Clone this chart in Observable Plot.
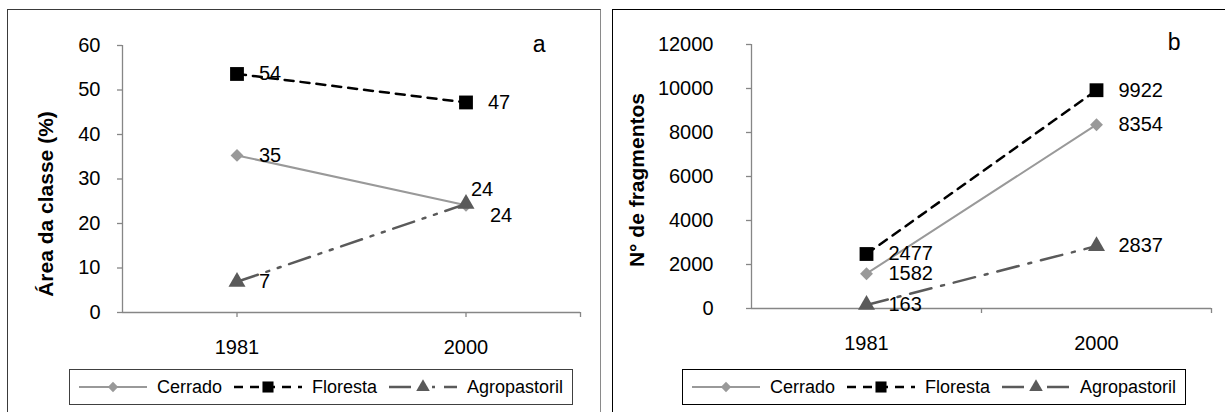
<!DOCTYPE html>
<html>
<head>
<meta charset="utf-8">
<script src="https://cdn.jsdelivr.net/npm/d3@7"></script>
<script src="https://cdn.jsdelivr.net/npm/@observablehq/plot@0.6"></script>
<style>
  body { margin: 0; background: #fff; font-family: "Liberation Sans", Arial, sans-serif; }
  #wrap { position: relative; width: 1225px; height: 412px; overflow: hidden; background: #fff; }
  .panel { position: absolute; box-sizing: border-box; }
  .chart { position: absolute; top: 0; }
  .ytitle { position: absolute; transform: translate(-50%, -50%) rotate(-90deg); white-space: nowrap;
            font-weight: bold; font-size: 21px; color: #000; }
  .legend { position: absolute; box-sizing: border-box; height: 36px; display: flex; align-items: center;
            font-size: 18px; color: #000; background: #fff; white-space: nowrap; }
  .legend svg { display: block; flex: none; }
  .legend span { margin-left: 10px; margin-right: 12px; }
</style>
</head>
<body>
<div id="wrap"></div>
<script>
// ---------- data ----------
const years = ["1981", "2000"];
const seriesNames = ["Cerrado", "Floresta", "Agropastoril"];
const areaCerrado = [35.3, 24.1];
const areaFloresta = [53.6, 47.2];
const areaAgropastoril = [6.9, 24.4];
const fragCerrado = [1582, 8354];
const fragFloresta = [2477, 9922];
const fragAgropastoril = [163, 2837];
const areaTicks = [0, 10, 20, 30, 40, 50, 60];
const fragTicks = [0, 2000, 4000, 6000, 8000, 10000, 12000];
const panelLetters = ["a", "b"];
const yTitles = ["Área da classe (%)", "N° de fragmentos"];

// ---------- styles ----------
const sty = {
  Cerrado:      {stroke: "#999999", width: 2,   dashA: null, dashB: null, symbol: "diamond2", r: 5.8},
  Floresta:     {stroke: "#000000", width: 2.5, dashA: "9,7", dashB: "9,7", symbol: "square", r: 7.8},
  Agropastoril: {stroke: "#5a5a5a", width: 2.5, dashA: "22,9,3,9,3,9", dashB: "22,10,3,10", symbol: "triangle", r: 6.3}
};
const axisColor = "#868686";

function rowsFrom(arrays) {
  return seriesNames.flatMap((s, k) => years.map((y, i) => ({series: s, i, year: y, value: arrays[k][i]})));
}
const rowsA = rowsFrom([areaCerrado, areaFloresta, areaAgropastoril]);
const rowsB = rowsFrom([fragCerrado, fragFloresta, fragAgropastoril]);

const wrap = document.getElementById("wrap");

// panel frames
const pa = document.createElement("div");
pa.className = "panel";
Object.assign(pa.style, {left: "7px", top: "9px", width: "594px", height: "500px",
  border: "1.5px solid #3a3a3a", borderRightColor: "#8a8a8a"});
wrap.appendChild(pa);
const pb = document.createElement("div");
pb.className = "panel";
Object.assign(pb.style, {left: "612px", top: "9px", width: "700px", height: "500px",
  border: "1.3px solid #000"});
wrap.appendChild(pb);

function seriesMarks(rows, dashKey) {
  const marks = [];
  for (const s of seriesNames) {
    const d = rows.filter(r => r.series === s);
    const st = sty[s];
    marks.push(Plot.line(d, {x: "i", y: "value", stroke: st.stroke, strokeWidth: st.width,
      strokeDasharray: st[dashKey] || undefined}));
  }
  for (const s of seriesNames) {
    const d = rows.filter(r => r.series === s);
    const st = sty[s];
    marks.push(Plot.dot(d, {x: "i", y: "value", symbol: st.symbol, r: st.r, fill: st.stroke, stroke: "none"}));
  }
  return marks;
}

// ---------- panel a ----------
const isA = (r, s, i) => r.series === s && r.i === i;
const chartA = Plot.plot({
  width: 608, height: 360,
  marginLeft: 122, marginRight: 28, marginTop: 45, marginBottom: 48,
  x: {type: "linear", domain: [-0.5, 1.5]},
  y: {domain: [0, 60]},
  style: {fontFamily: "Liberation Sans, Arial, sans-serif", fontSize: "20px", color: "#000", overflow: "visible", background: "transparent"},
  marks: [
    Plot.axisY({ticks: areaTicks, tickSize: 5, tickPadding: 17, stroke: axisColor, strokeWidth: 1.3, fill: "#000", label: null, fontSize: 20}),
    Plot.axisX({ticks: [0, 1, 1.5], tickFormat: i => years[i] ?? "", tickSize: 5, tickPadding: 22, stroke: axisColor, strokeWidth: 1.3, fill: "#000", label: null, fontSize: 20}),
    Plot.ruleY([0], {stroke: axisColor, strokeWidth: 1.3}),
    Plot.ruleX([-0.5], {stroke: axisColor, strokeWidth: 1.3}),
    ...seriesMarks(rowsA, "dashA"),
    Plot.text(rowsA.filter(r => !isA(r, "Cerrado", 1) && !isA(r, "Agropastoril", 1)),
      {x: "i", y: "value", text: d => d3.format(".0f")(d.value), dx: 22, textAnchor: "start", fontSize: 20, fill: "#000"}),
    Plot.text(rowsA.filter(r => isA(r, "Cerrado", 1)),
      {x: "i", y: "value", text: d => d3.format(".0f")(d.value), dx: 5, dy: -16, textAnchor: "start", fontSize: 20, fill: "#000"}),
    Plot.text(rowsA.filter(r => isA(r, "Agropastoril", 1)),
      {x: "i", y: "value", text: d => d3.format(".0f")(d.value), dx: 24, dy: 12, textAnchor: "start", fontSize: 20, fill: "#000"}),
    Plot.text([panelLetters[0]], {frameAnchor: "top-right", text: d => d, dx: -35, dy: -1, fontSize: 23, fill: "#000", lineAnchor: "middle"})
  ]
});
chartA.classList.add("chart");
chartA.style.left = "0px";
wrap.appendChild(chartA);

// ---------- panel b ----------
const chartB = Plot.plot({
  width: 613, height: 360,
  marginLeft: 139, marginRight: 14, marginTop: 44, marginBottom: 52,
  x: {type: "linear", domain: [-0.5, 1.5]},
  y: {domain: [0, 12000]},
  style: {fontFamily: "Liberation Sans, Arial, sans-serif", fontSize: "20px", color: "#000", overflow: "visible", background: "transparent"},
  marks: [
    Plot.axisY({ticks: fragTicks, tickFormat: d => String(d), tickSize: 5, tickPadding: 33, stroke: axisColor, strokeWidth: 1.3, fill: "#000", label: null, fontSize: 20}),
    Plot.axisX({ticks: [0.5, 1.5], tickFormat: () => "", tickSize: 5, stroke: axisColor, strokeWidth: 1.3, label: null}),
    Plot.axisX({ticks: [0, 1], tickFormat: i => years[i], tickSize: 0, tickPadding: 27, fill: "#000", label: null, fontSize: 20}),
    Plot.ruleY([0], {stroke: axisColor, strokeWidth: 1.3}),
    Plot.ruleX([-0.5], {stroke: axisColor, strokeWidth: 1.3}),
    ...seriesMarks(rowsB, "dashB"),
    Plot.text(rowsB, {x: "i", y: "value", text: d => String(d.value), dx: 22, textAnchor: "start", fontSize: 20, fill: "#000"}),
    Plot.text([panelLetters[1]], {frameAnchor: "top-right", text: d => d, dx: -31, dy: -2, fontSize: 23, fill: "#000", lineAnchor: "middle"})
  ]
});
chartB.classList.add("chart");
chartB.style.left = "612px";
wrap.appendChild(chartB);

// ---------- y titles ----------
function addTitle(text, cx, cy) {
  const t = document.createElement("div");
  t.className = "ytitle";
  t.textContent = text;
  t.style.left = cx + "px";
  t.style.top = cy + "px";
  wrap.appendChild(t);
}
addTitle(yTitles[0], 46, 204);
addTitle(yTitles[1], 637, 180);

// ---------- legends ----------
function addLegend(left, top, width, dashKey, borderColor) {
  const lg = document.createElement("div");
  lg.className = "legend";
  Object.assign(lg.style, {left: left + "px", top: top + "px", width: width + "px",
    border: "1.3px solid " + borderColor, paddingLeft: "9px"});
  for (const s of seriesNames) {
    const st = sty[s];
    const svg = d3.create("svg").attr("width", 68).attr("height", 20);
    svg.append("line").attr("x1", 0).attr("x2", 68).attr("y1", 10).attr("y2", 10)
      .attr("stroke", st.stroke).attr("stroke-width", st.width)
      .attr("stroke-dasharray", st[dashKey]);
    const sym = {diamond2: d3.symbolDiamond2, square: d3.symbolSquare, triangle: d3.symbolTriangle}[st.symbol];
    svg.append("path").attr("transform", "translate(34,10)")
      .attr("d", d3.symbol(sym, Math.PI * (st.r * 0.8) ** 2)()).attr("fill", st.stroke);
    lg.appendChild(svg.node());
    const sp = document.createElement("span");
    sp.textContent = s;
    lg.appendChild(sp);
  }
  wrap.appendChild(lg);
}
addLegend(69, 369, 504, "dashA", "#404040");
addLegend(682, 369, 504, "dashB", "#000");
</script>
</body>
</html>
